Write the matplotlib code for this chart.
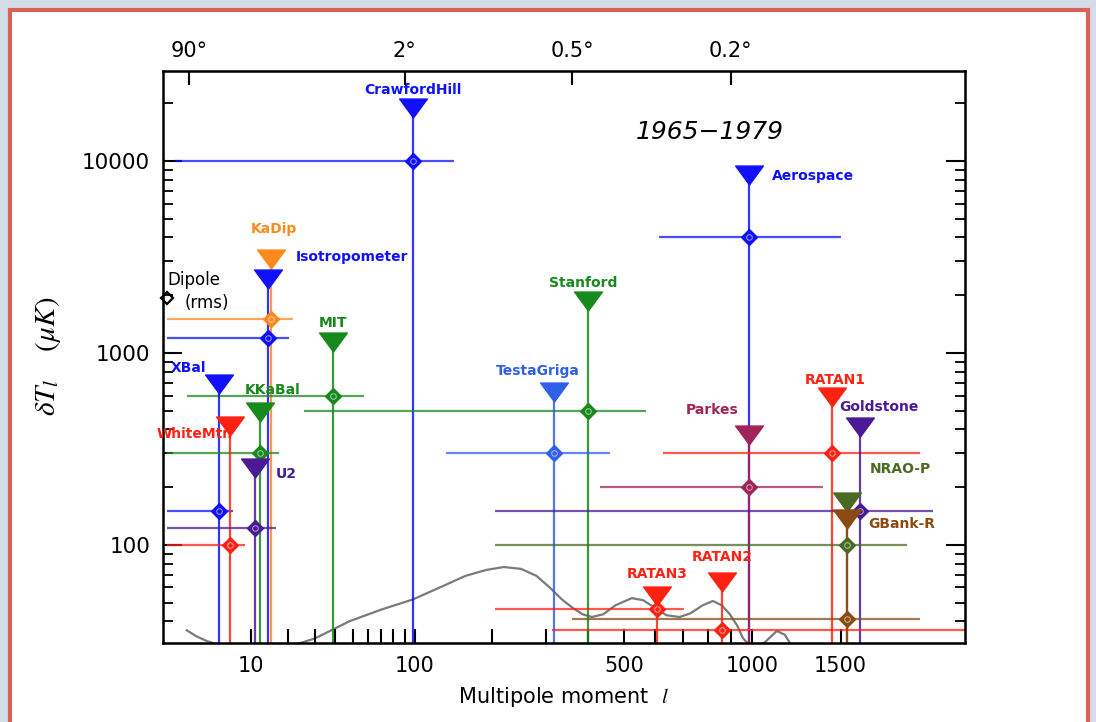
import numpy as np
import matplotlib.pyplot as plt
from matplotlib.path import Path
from matplotlib.patches import Rectangle

# CMB anisotropy limits, 1965-1979
names = ['CrawfordHill', 'Aerospace', 'KaDip', 'Isotropometer', 'MIT', 'XBal',
         'KKaBal', 'WhiteMtn', 'U2', 'Stanford', 'TestaGriga', 'Parkes',
         'RATAN1', 'Goldstone', 'NRAO-P', 'GBank-R', 'RATAN3', 'RATAN2']
ell = [98, 985, 14.7, 14.1, 39, 4.8, 12, 6.3, 11, 400, 318, 985,
       1445, 1630, 1540, 1540, 607, 861]
t_limit = [19000, 8500, 3100, 2420, 1140, 690, 495, 416, 252, 1870, 630, 375,
           593, 412, 168, 136, 54, 64]
t_point = [10000, 4000, 1500, 1200, 600, 150, 300, 100, 123, 500, 300, 200,
           300, 150, 100, 41, 46.5, 36]
ell_lo = [1.2, 613, 0.84, 0.84, 1.85, 0.84, 0.84, 0.84, 0.84, 25.6, 134, 431,
          628, 205, 205, 359, 205, 313]
ell_hi = [144, 1500, 21.4, 20.3, 57.4, 6.85, 17.1, 8.87, 16.2, 568, 458, 1390,
          2073, 2181, 1971, 2073, 705, 3000]
colors = ['#1010ff', '#1010ff', '#ff8a1c', '#1010ff', '#18891c', '#1010ff',
          '#18891c', '#ff2212', '#4a1a96', '#18891c', '#3060e8', '#a02458',
          '#ff2212', '#4a1a96', '#4a6a22', '#8a4a12', '#ff2212', '#ff2212']

# label offsets (pixels) from each triangle, and alignment
lab_dx = [0, 23, 3, 27, 0, -30, 13, -35, 31, -5, -16, -37, 3, 19, 54, 55, 0, 0]
lab_dy = [18, -1, 30, 22, 19, 16, 22, -8, -6, 18, 21, 25, 17, 20, 33, -5, 22, 25]
lab_ha = ['center', 'left', 'center', 'left', 'center', 'center', 'center',
          'center', 'center', 'center', 'center', 'center', 'center', 'center',
          'center', 'center', 'center', 'center']

dipole_ell = 0.85
dipole_t = 1930

# theoretical spectrum
cl_ell = [1.85, 2.5, 3.5, 5, 8, 12, 20, 30, 48, 70, 98, 127, 160, 190, 219,
          250, 280, 308, 335, 361, 385, 409, 440, 475, 524, 560, 600, 640, 689,
          730, 780, 822, 860, 896, 930, 957, 983, 1020, 1065, 1127, 1170, 1197, 1250]
cl_dt = [35.9, 33.5, 31.5, 30, 28.5, 28, 29.5, 32.5, 40, 46, 52, 60, 69, 74, 76.7,
         75, 69, 60, 52, 46.9, 43.5, 42.1, 43.5, 48.5, 52.8, 51.5, 47, 43, 42.1,
         44, 48.5, 51, 48.5, 43.6, 38, 32.7, 30.4, 29.6, 31.1, 35.6, 34, 30.9, 27]

P = 0.312


def fwd(l):
    return np.power(np.clip(l, 1e-6, None), P)


def inv(u):
    return np.power(np.clip(u, 1e-6, None), 1.0 / P)


plt.rcParams['font.family'] = 'DejaVu Sans'
plt.rcParams['mathtext.fontset'] = 'stix'

fig = plt.figure(figsize=(10.96, 7.22), dpi=100, facecolor='#d3dde7')
# slide frame
fig.patches.append(Rectangle((10 / 1096, -0.05), 1078 / 1096, 1.05 - 10 / 722,
                             transform=fig.transFigure, facecolor='white',
                             edgecolor='#d9625a', linewidth=3, zorder=-1))

ax = fig.add_axes([0.1484, 0.1101, 0.7321, 0.7916])
ax.set_xscale('function', functions=(fwd, inv))
ax.set_yscale('log')
xlim = (0.70, 2460)
ylim = (31, 29500)

tri = Path([(-1, 0.68), (1, 0.68), (0, -0.68), (-1, 0.68)],
           [Path.MOVETO, Path.LINETO, Path.LINETO, Path.CLOSEPOLY])

ax.plot(cl_ell, cl_dt, color='#7a7a7a', lw=1.6, zorder=1)

for i in range(len(names)):
    c = colors[i]
    ax.hlines(t_point[i], ell_lo[i], ell_hi[i], colors=c, lw=1.6, alpha=0.75, zorder=2)
    ax.vlines(ell[i], 1, t_limit[i], colors=c, lw=1.6, alpha=0.85, zorder=2)
    ax.plot(ell[i], t_point[i], marker='D', ms=8, color=c, mec=c, zorder=4)
    ax.plot(ell[i], t_point[i], marker='o', ms=4, mfc='none', mec='white',
            mew=0.7, alpha=0.6, zorder=5)
    ax.plot(ell[i], t_limit[i], marker=tri, ms=20, color=c, mec=c, lw=0, zorder=5)
    ax.annotate(names[i], (ell[i], t_limit[i]), xytext=(lab_dx[i], lab_dy[i]),
                textcoords='offset pixels', ha=lab_ha[i], va='center',
                color=c, fontsize=10, fontweight='bold', zorder=3)

ax.plot(dipole_ell, dipole_t, marker='D', ms=6.5, mfc='none', mec='black', mew=1.6,
        clip_on=False, zorder=5)
ax.annotate('Dipole', (dipole_ell, dipole_t), xytext=(0, 18), textcoords='offset pixels',
            ha='left', va='center', fontsize=12)
ax.annotate('(rms)', (dipole_ell, dipole_t), xytext=(18, -5), textcoords='offset pixels',
            ha='left', va='center', fontsize=12)

ax.text(0.682, 0.894, '1965\u22121979', transform=ax.transAxes, fontsize=18,
        style='italic', ha='center', va='center')

ax.set_xlim(xlim)
ax.set_ylim(ylim)

xt = [10, 20, 30, 40, 50, 60, 70, 80, 90, 100, 200, 300, 400, 500, 600, 700,
      800, 900, 1000, 1500]
xl = [str(v) if v in (10, 100, 500, 1000, 1500) else '' for v in xt]
ax.set_xticks(xt)
ax.set_xticklabels(xl)
ax.xaxis.set_minor_locator(plt.NullLocator())
ax.tick_params(axis='x', direction='in', length=10, width=1.5, labelsize=15,
               pad=10, top=False)
ax.set_yticks([100, 1000, 10000])
ax.set_yticklabels(['100', '1000', '10000'])
ax.tick_params(axis='y', which='major', direction='in', length=14, width=1.5,
               labelsize=15.5, pad=9, right=True)
ax.tick_params(axis='y', which='minor', direction='in', length=7, width=1.3,
               right=True, labelleft=False)
for s in ax.spines.values():
    s.set_linewidth(1.8)

ax.set_xlabel('Multipole moment  $l$', fontsize=15, labelpad=6)
ax.set_ylabel(r'$\delta T_l\ \ \ \ (\mu K)$', fontsize=21, labelpad=14)

ax2 = ax.twiny()
ax2.set_xscale('function', functions=(fwd, inv))
ax2.set_xlim(xlim)
deg = [90, 2, 0.5, 0.2]
ax2.set_xticks([180 / d for d in deg])
ax2.set_xticklabels(['90\u00b0', '2\u00b0', '0.5\u00b0', '0.2\u00b0'])
ax2.xaxis.set_minor_locator(plt.NullLocator())
ax2.tick_params(axis='x', direction='in', length=10, width=1.5, labelsize=15, pad=7)

fig.savefig('out.png', dpi=100, facecolor=fig.get_facecolor())
